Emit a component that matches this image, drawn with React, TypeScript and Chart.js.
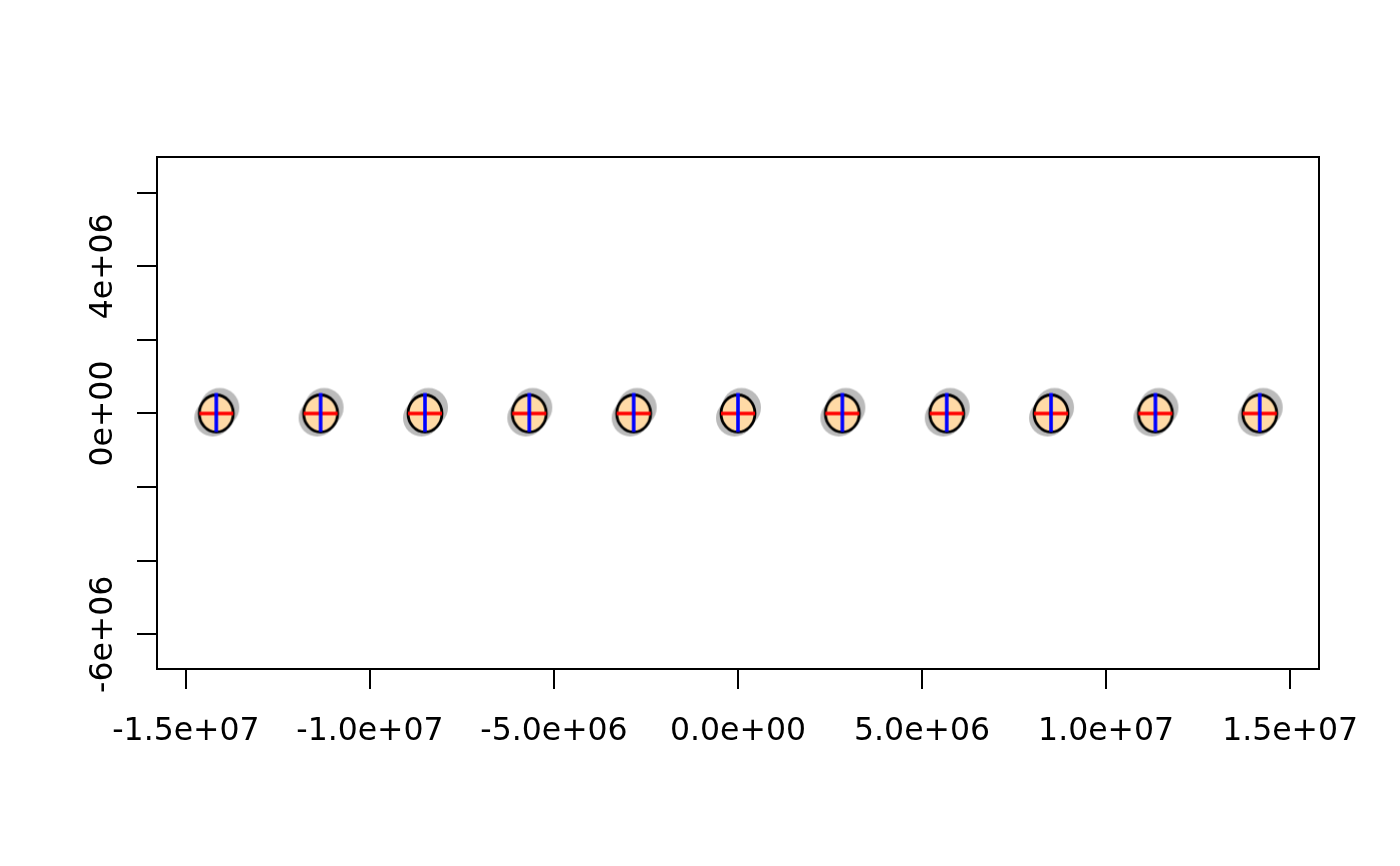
import { useEffect, useRef } from "react";
import { Chart, registerables } from "chart.js";

Chart.register(...registerables);

// Centres of the indicatrix markers (projected metres)
const pointX = [-14175000, -11340000, -8505000, -5670000, -2835000, 0, 2835000, 5670000, 8505000, 11340000, 14175000];
const pointY = [0, 0, 0, 0, 0, 0, 0, 0, 0, 0, 0];

const xTicks = [-15000000, -10000000, -5000000, 0, 5000000, 10000000, 15000000];
const xTickLabels = ["-1.5e+07", "-1.0e+07", "-5.0e+06", "0.0e+00", "5.0e+06", "1.0e+07", "1.5e+07"];
const yTicks = [-6000000, -4000000, -2000000, 0, 2000000, 4000000, 6000000];
const yTickLabels = ["-6e+06", "", "", "0e+00", "", "4e+06", ""];

const xRange = [-15785000, 15785000];
const yRange = [-6943000, 6970000];

const FONT = '31.5px "DejaVu Sans"';

function makeMarker(): HTMLCanvasElement {
  const c = document.createElement("canvas");
  c.width = 64;
  c.height = 64;
  const ctx = c.getContext("2d")!;
  const cx = 32;
  const cy = 32;
  ctx.fillStyle = "#BBBBBB";
  ctx.beginPath();
  ctx.arc(cx + 3.5, cy - 6, 19.5, 0, Math.PI * 2);
  ctx.fill();
  ctx.beginPath();
  ctx.arc(cx - 3.5, cy + 4.5, 18.5, 0, Math.PI * 2);
  ctx.fill();
  ctx.beginPath();
  ctx.ellipse(cx, cy, 17, 18.5, 0, 0, Math.PI * 2);
  ctx.fillStyle = "#FFDAA6";
  ctx.fill();
  ctx.lineWidth = 2.8;
  ctx.strokeStyle = "#000000";
  ctx.stroke();
  ctx.lineWidth = 3.6;
  ctx.strokeStyle = "#FF0000";
  ctx.beginPath();
  ctx.moveTo(cx - 17, cy);
  ctx.lineTo(cx + 17, cy);
  ctx.stroke();
  ctx.strokeStyle = "#0000FF";
  ctx.beginPath();
  ctx.moveTo(cx, cy - 20.5);
  ctx.lineTo(cx, cy + 18.5);
  ctx.stroke();
  return c;
}

const framePlugin = {
  id: "frame",
  beforeDraw(chart: any) {
    const ctx = chart.ctx;
    ctx.save();
    ctx.fillStyle = "#FFFFFF";
    ctx.fillRect(0, 0, chart.width, chart.height);
    ctx.restore();
  },
  afterDraw(chart: any) {
    const ctx = chart.ctx;
    const a = chart.chartArea;
    const xs = chart.scales.x;
    const ys = chart.scales.y;
    ctx.save();
    ctx.strokeStyle = "#000000";
    ctx.lineWidth = 2;
    ctx.strokeRect(a.left, a.top, a.right - a.left, a.bottom - a.top);
    ctx.fillStyle = "#000000";
    ctx.font = FONT;
    ctx.textAlign = "center";
    ctx.textBaseline = "alphabetic";
    xTicks.forEach((v, i) => {
      ctx.fillText(xTickLabels[i], xs.getPixelForValue(v), a.bottom + 70.5);
    });
    yTicks.forEach((v, i) => {
      if (!yTickLabels[i]) return;
      ctx.save();
      ctx.translate(a.left - 45, ys.getPixelForValue(v));
      ctx.rotate(-Math.PI / 2);
      ctx.fillText(yTickLabels[i], 0, 0);
      ctx.restore();
    });
    ctx.restore();
  },
};

export default function App() {
  const ref = useRef<HTMLCanvasElement>(null);
  useEffect(() => {
    if (!ref.current) return;
    const marker = makeMarker();
    const chart = new Chart(ref.current, {
      type: "scatter",
      data: {
        datasets: [
          {
            data: pointX.map((x, i) => ({ x, y: pointY[i] })),
            pointStyle: marker as any,
            pointRadius: 18,
            showLine: false,
          },
        ],
      },
      options: {
        animation: false,
        responsive: false,
        devicePixelRatio: 1,
        events: [],
        layout: { padding: { top: 157, right: 81, left: 0, bottom: 0 } },
        plugins: { legend: { display: false }, tooltip: { enabled: false } },
        scales: {
          x: {
            type: "linear",
            min: xRange[0],
            max: xRange[1],
            afterBuildTicks: (s: any) => {
              s.ticks = xTicks.map((value) => ({ value }));
            },
            afterFit: (s: any) => {
              s.height = 197;
            },
            ticks: { display: false, autoSkip: false },
            border: { display: false },
            grid: {
              drawOnChartArea: false,
              drawTicks: true,
              tickLength: 20,
              color: "#000000",
              lineWidth: 2,
            },
          },
          y: {
            type: "linear",
            min: yRange[0],
            max: yRange[1],
            afterBuildTicks: (s: any) => {
              s.ticks = yTicks.map((value) => ({ value }));
            },
            afterFit: (s: any) => {
              s.width = 157;
            },
            ticks: { display: false, autoSkip: false },
            border: { display: false },
            grid: {
              drawOnChartArea: false,
              drawTicks: true,
              tickLength: 20,
              color: "#000000",
              lineWidth: 2,
            },
          },
        },
      },
      plugins: [framePlugin],
    });
    return () => chart.destroy();
  }, []);
  return (
    <div style={{ position: "absolute", left: 0, top: 0, width: 1400, height: 866, background: "#FFFFFF" }}>
      <canvas ref={ref} width={1400} height={866} style={{ display: "block" }} />
    </div>
  );
}
